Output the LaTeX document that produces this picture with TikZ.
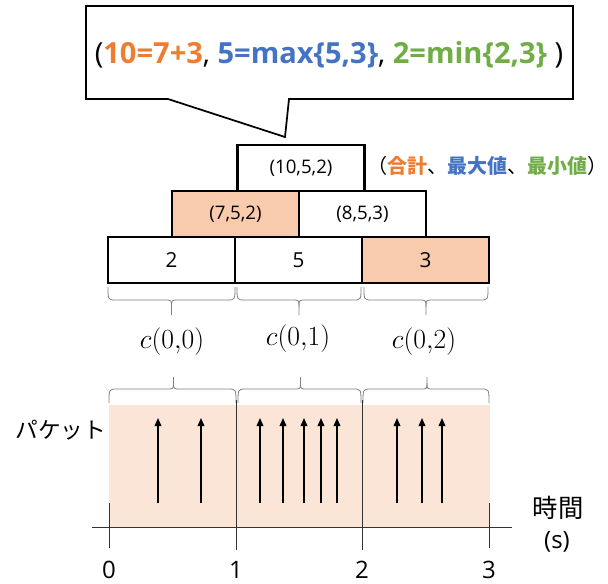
\documentclass[tikz,border=0pt]{standalone}
\usepackage{fontspec}
\setmainfont{Open Sans}
\newfontfamily\jp{Noto Sans CJK JP}
\usetikzlibrary{arrows.meta}
\definecolor{corange}{HTML}{ED7D31}
\definecolor{cblue}{HTML}{4472C4}
\definecolor{cgreen}{HTML}{70AD47}
\definecolor{peach}{HTML}{F8CBAD}
\definecolor{lightpeach}{HTML}{FBE5D6}
\definecolor{bracegray}{HTML}{7F7F7F}
\tikzset{
  cell/.style={draw=black, line width=2pt, minimum width=95.25pt, minimum height=34.5pt, inner sep=0pt, font=\fontsize{14}{16}\selectfont},
  bottomcell/.style={cell, font=\fontsize{15.5}{18}\selectfont},
  hot/.style={fill=peach},
  bracestyle/.style={draw=bracegray, line width=0.6pt},
  axis/.style={draw=black!80, line width=0.6pt},
  packet/.style={-{Triangle[length=6pt,width=5pt]}, line width=1.1pt},
  ticklabel/.style={font=\fontsize{18}{20}\selectfont, inner sep=0pt},
  clabel/.style={font=\fontsize{21}{24}\selectfont}
}
\begin{document}
\begin{tikzpicture}[x=0.75pt,y=-0.75pt]
\useasboundingbox (0,0) rectangle (608,583);
% callout
\draw[line width=1.3pt, fill=white] (86,6) -- (573,6) -- (573,99) -- (289,99) -- (285,137) -- (168,99) -- (86,99) -- cycle;
\node (callout) at (329,55) {\fontsize{21.8}{25}\selectfont (\textbf{\color{corange}10=7+3}, \textbf{\color{cblue}5=max\{5,3\}}, \textbf{\color{cgreen}2=min\{2,3\}} )};
% pyramid
\node[cell] (top) at (301,168) {(10,5,2)};
\node[cell, hot] (m0) at (235.5,214) {(7,5,2)};
\node[cell] (m1) at (362.5,214) {(8,5,3)};
\node[bottomcell] (b0) at (171.5,260) {2};
\node[bottomcell] (b1) at (298.5,260) {5};
\node[bottomcell, hot] (b2) at (425.5,260) {3};
\node[anchor=west, inner sep=0pt] (legend) at (367,166) {\jp\fontsize{15}{18}\selectfont （\textbf{\color{corange}合計}、\textbf{\color{cblue}最大値}、\textbf{\color{cgreen}最小値}）};
% upper braces (pointing down)
\foreach \a/\b in {108/235, 237/361, 364/488}{
  \pgfmathsetmacro{\m}{(\a+\b)/2}
  \draw[bracestyle] (\a,287) .. controls (\a,300) .. (\a+8,300) -- (\m-7,300) .. controls (\m,300) .. (\m,307) -- (\m,315);
  \draw[bracestyle] (\b,287) .. controls (\b,300) .. (\b-8,300) -- (\m+7,300) .. controls (\m,300) .. (\m,307);
}
\node[clabel] (c0) at (172,342) {$c(0{,}0)$};
\node[clabel] (c1) at (298,339) {$c(0{,}1)$};
\node[clabel] (c2) at (424,342) {$c(0{,}2)$};
% lower braces (pointing up)
\foreach \a/\b in {109/236, 238/361, 363/489}{
  \pgfmathsetmacro{\m}{(\a+\b)/2+1}
  \draw[bracestyle] (\a,403) .. controls (\a,389) .. (\a+8,389) -- (\m-7,389) .. controls (\m,389) .. (\m,383) -- (\m,377);
  \draw[bracestyle] (\b,403) .. controls (\b,389) .. (\b-8,389) -- (\m+7,389) .. controls (\m,389) .. (\m,383);
}
% packet area
\fill[lightpeach] (109,405) rectangle (490,527);
\draw[axis] (92,527) -- (512,527);
\draw[axis] (109,503) -- (109,548);
\draw[axis] (489,503) -- (489,548);
\draw[axis] (236,400) -- (236,550);
\draw[axis] (362,400) -- (362,550);
\foreach \x in {158,201,260,283,304,321,337,397,422,442}{
  \draw[packet] (\x,503) -- (\x,418);
}
\node[font=\jp\fontsize{17}{20}\selectfont] (pk) at (61,430) {パケット};
\node[font=\jp\fontsize{19}{22}\selectfont] (time) at (558,508) {時間};
\node[font=\fontsize{18}{20}\selectfont] (unit) at (557,542) {(s)};
\node[ticklabel] (t0) at (109,570) {0};
\node[ticklabel] (t1) at (236,570) {1};
\node[ticklabel] (t2) at (362,570) {2};
\node[ticklabel] (t3) at (489,570) {3};
\end{tikzpicture}
\end{document}
